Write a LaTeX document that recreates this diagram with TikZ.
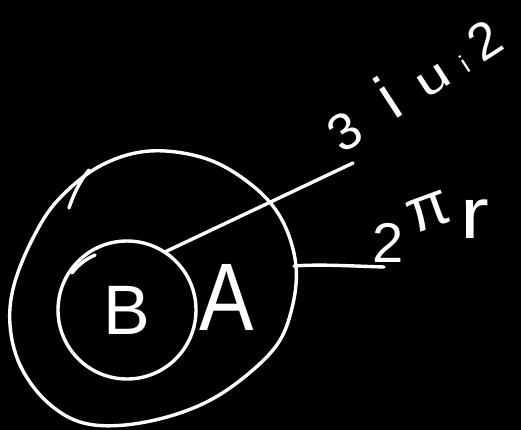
\documentclass[tikz,border=0pt]{standalone}
\usepackage{graphicx}
\usepackage{fontspec}
\setmainfont{Liberation Sans}
\begin{document}
\begin{tikzpicture}[x=1pt,y=-1pt,
  line width=3.4pt, line cap=round, line join=round,
  stroke/.style={draw=white},
  lbl/.style={text=white, inner sep=0pt, outer sep=0pt},
  ringbox/.style={draw=white, circle, minimum size=138pt, inner sep=0pt}]
\fill[black] (0,0) rectangle (521,430);
\useasboundingbox (0,0) rectangle (521,430);
% outer ring
\draw[stroke] plot[smooth cycle, tension=0.6] coordinates {
 (150,151) (207,159) (253,186) (282,220) (296,266) (291,312) (273,350)
 (227,390) (180,413) (125,425) (80,422) (45,400) (20,365) (10,325)
 (14,285) (33,238) (58,200) (100,166)};
\draw[stroke] (69,208) .. controls (74,193) and (80,181) .. (89,170);
% inner circle B
\node[ringbox, lbl, font=\fontsize{70}{70}\selectfont] (B) at (127,310) {B};
\draw[stroke] (72,273) .. controls (78,265) and (86,259) .. (95,255);
% A
\node[lbl, font=\fontsize{96}{96}\selectfont, xscale=0.85] (A) at (227,297) {A};
% connectors
\coordinate (t3) at (353,163);
\coordinate (oe) at (294,266);
\coordinate (t2) at (384,267);
\draw[stroke] (B.57) -- (t3);
\draw[stroke] (oe) .. controls (320,264) and (350,266) .. (t2);
% top label
\node[lbl, anchor=base west, rotate=33] (toplbl) at (342,155)
 {{\fontsize{52}{52}\selectfont 3}\hspace{34pt}{\fontsize{64}{64}\selectfont i}\hspace{24pt}\scalebox{1.35}[1]{\fontsize{44}{44}\selectfont u}\hspace{16pt}{\fontsize{26}{26}\selectfont i}\hspace{12pt}{\fontsize{52}{52}\selectfont 2}};
% bottom label
\node[lbl, anchor=base west] (botlbl) at (372,262)
 {{\fontsize{56}{56}\selectfont 2}\raisebox{28pt}{\rotatebox{20}{\fontsize{62}{62}\selectfont π}}\hspace{6pt}\raisebox{24pt}{\scalebox{1.2}[1]{\fontsize{72}{72}\selectfont r}}};
\end{tikzpicture}
\end{document}
